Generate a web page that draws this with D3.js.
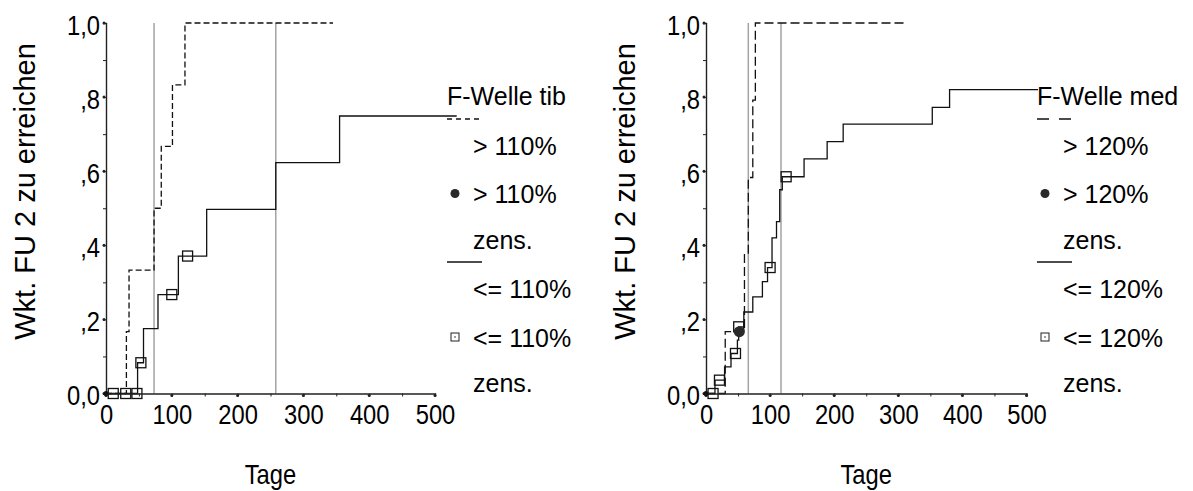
<!DOCTYPE html>
<html>
<head>
<meta charset="utf-8">
<script src="https://cdn.jsdelivr.net/npm/d3@7"></script>
<style>
  body { margin: 0; background: #fff; }
  svg { display: block; }
  text { font-family: "Liberation Sans", Arial, sans-serif; fill: #000; }
</style>
</head>
<body>
<svg id="chart" width="1193" height="491"></svg>
<script>
// ---- axis ticks ----
const xTickValues = [0, 50, 100, 150, 200, 250, 300, 350, 400, 450, 500];
const xMajorTicks = [0, 100, 200, 300, 400, 500];
const xTickLabels = ["0", "100", "200", "300", "400", "500"];
const yTickValues = [0, 0.1, 0.2, 0.3, 0.4, 0.5, 0.6, 0.7, 0.8, 0.9, 1.0];
const yMajorTicks = [0, 0.2, 0.4, 0.6, 0.8, 1.0];
const yTickLabels = ["0,0", ",2", ",4", ",6", ",8", "1,0"];
const xTitle = "Tage";
const yTitle = "Wkt. FU 2 zu erreichen";

// ---- F-Welle tib: cumulative probability steps (days / value) ----
const tibHighDays = [0, 31, 35, 73, 84, 101, 120, 345];
const tibHighVals = [0, 0.167, 0.333, 0.5, 0.667, 0.833, 1.0, 1.0];
const tibHighCensDays = [];
const tibHighCensVals = [];
const tibLowDays = [0, 48, 57, 79, 110, 153, 258, 355, 533];
const tibLowVals = [0, 0.083, 0.175, 0.267, 0.371, 0.497, 0.623, 0.749, 0.749];
const tibLowCensDays = [11, 30, 47, 53, 100, 124];
const tibLowCensVals = [0, 0, 0, 0.083, 0.267, 0.371];
const tibRefDays = [73, 258];
const tibLegend = ["F-Welle tib", "> 110%", "> 110%", "zens.", "<= 110%", "<= 110%", "zens."];

// ---- F-Welle med ----
const medHighDays = [0, 30, 60, 66, 73, 77, 312];
const medHighVals = [0, 0.167, 0.375, 0.583, 0.792, 1.0, 1.0];
const medHighCensDays = [52];
const medHighCensVals = [0.167];
const medLowDays = [0, 14, 29, 39, 49, 51, 59, 73, 88, 96, 103, 110, 115, 119, 153, 189, 214, 353, 380, 518];
const medLowVals = [0, 0.036, 0.072, 0.108, 0.144, 0.18, 0.22, 0.261, 0.302, 0.34, 0.42, 0.464, 0.55, 0.585, 0.633, 0.68, 0.727, 0.772, 0.82, 0.82];
const medLowCensDays = [11, 21, 46, 51, 100, 125];
const medLowCensVals = [0, 0.036, 0.108, 0.18, 0.34, 0.585];
const medRefDays = [66, 117];
const medLegend = ["F-Welle med", "> 120%", "> 120%", "zens.", "<= 120%", "<= 120%", "zens."];

const svg = d3.select("#chart");
const TICK_FONT = 27, TICK_SX = 0.88;
const TITLE_FONT = 29;
const LEGEND_FONT = 25;

function zip(a, b) { return a.map((d, i) => [d, b[i]]); }

function drawPanel(p) {
  const x = d3.scaleLinear().domain([0, 500]).range([p.x0, p.x1]);
  const y = d3.scaleLinear().domain([0, 1]).range([393.5, 23]);
  const g = svg.append("g");

  // reference (median) lines
  g.selectAll("line.ref").data(p.refDays).join("line")
    .attr("x1", d => x(d)).attr("x2", d => x(d))
    .attr("y1", y(0)).attr("y2", y(1))
    .attr("stroke", "#a3a3a3").attr("stroke-width", 1.5);

  // step curves
  const step = d3.line().x(d => x(d[0])).y(d => y(d[1])).curve(d3.curveStepAfter);
  g.append("path").datum(zip(p.lowDays, p.lowVals)).attr("d", step)
    .attr("fill", "none").attr("stroke", "#111").attr("stroke-width", 1.3);
  g.append("path").datum(zip(p.highDays, p.highVals)).attr("d", step)
    .attr("fill", "none").attr("stroke", "#111").attr("stroke-width", 1.3)
    .attr("stroke-dasharray", p.dash);

  // censored marks
  g.selectAll("rect.cens").data(zip(p.lowCensDays, p.lowCensVals)).join("rect")
    .attr("x", d => x(d[0]) - 5).attr("y", d => y(d[1]) - 5)
    .attr("width", 10).attr("height", 10)
    .attr("fill", "none").attr("stroke", "#111").attr("stroke-width", 1.3);
  g.selectAll("circle.cens").data(zip(p.highCensDays, p.highCensVals)).join("circle")
    .attr("cx", d => x(d[0])).attr("cy", d => y(d[1])).attr("r", 5.5)
    .attr("fill", "#2a2a2a");

  // axes
  const yAxis = d3.axisLeft(y).tickValues(yTickValues).tickSize(3)
    .tickFormat(d => { const k = yMajorTicks.findIndex(v => Math.abs(v - d) < 1e-9); return k >= 0 ? yTickLabels[k] : ""; });
  const ya = g.append("g").attr("transform", `translate(${p.x0},0)`).call(yAxis);
  ya.select(".domain").attr("stroke", "#222").attr("stroke-width", 1.4);
  ya.selectAll(".tick line").attr("stroke", "#222");
  ya.selectAll(".tick text")
    .attr("font-size", TICK_FONT).attr("x", -6 / TICK_SX).attr("dy", null).attr("y", 11)
    .attr("transform", `scale(${TICK_SX},1)`);

  const xAxis = d3.axisBottom(x).tickValues(xTickValues).tickSize(3)
    .tickFormat(d => { const k = xMajorTicks.indexOf(d); return k >= 0 ? xTickLabels[k] : ""; });
  const xa = g.append("g").attr("transform", `translate(0,${y(0)})`).call(xAxis);
  xa.select(".domain").attr("stroke", "#222").attr("stroke-width", 1.4);
  xa.selectAll(".tick line").attr("stroke", "#222");
  xa.selectAll(".tick text")
    .attr("font-size", TICK_FONT).attr("y", 31).attr("dy", null)
    .attr("transform", `scale(${TICK_SX},1)`);

  // dots on major ticks
  g.selectAll("circle.ytk").data(yMajorTicks).join("circle")
    .attr("cx", p.x0 - 2).attr("cy", d => y(d)).attr("r", 1.5).attr("fill", "#222");
  g.selectAll("circle.xtk").data(xMajorTicks).join("circle")
    .attr("cx", d => x(d)).attr("cy", y(0) + 2).attr("r", 1.5).attr("fill", "#222");
  g.append("circle").attr("cx", x(0)).attr("cy", y(0)).attr("r", 2.5).attr("fill", "#111");

  // axis titles
  g.append("text").text(xTitle)
    .attr("text-anchor", "middle").attr("font-size", 27)
    .attr("transform", `translate(${(p.x0 + p.x1) / 2},484) scale(${TICK_SX},1)`);
  g.append("text").text(yTitle)
    .attr("text-anchor", "middle").attr("font-size", TITLE_FONT)
    .attr("transform", `translate(${p.x0 - 71},191.5) rotate(-90)`);

  // legend
  const L = p.legend;
  const base = [105, 155, 202.5, 248.5, 297.5, 346.5, 392];
  const lg = g.append("g");
  lg.selectAll("text").data(p.legendText).join("text")
    .attr("x", (d, i) => i === 0 ? L.x : L.x + 26)
    .attr("y", (d, i) => base[i])
    .attr("font-size", LEGEND_FONT)
    .text(d => d);
  lg.append("line").attr("x1", L.x).attr("x2", L.x + 35).attr("y1", 119).attr("y2", 119)
    .attr("stroke", "#111").attr("stroke-width", 1.3).attr("stroke-dasharray", p.legendDash);
  lg.append("line").attr("x1", L.x).attr("x2", L.x + 35).attr("y1", 262).attr("y2", 262)
    .attr("stroke", "#111").attr("stroke-width", 1.3);
  lg.append("circle").attr("cx", L.x + 8).attr("cy", 193.5).attr("r", 4.5).attr("fill", "#2a2a2a");
  lg.append("rect").attr("x", L.x + 4).attr("y", 333).attr("width", 8).attr("height", 8)
    .attr("fill", "none").attr("stroke", "#222").attr("stroke-width", 1);
  lg.append("circle").attr("cx", L.x + 8).attr("cy", 337).attr("r", 0.8).attr("fill", "#222");
}

drawPanel({
  x0: 106, x1: 435,
  highDays: tibHighDays, highVals: tibHighVals,
  highCensDays: tibHighCensDays, highCensVals: tibHighCensVals,
  lowDays: tibLowDays, lowVals: tibLowVals,
  lowCensDays: tibLowCensDays, lowCensVals: tibLowCensVals,
  refDays: tibRefDays, dash: "6,3", legendDash: "5,4",
  legend: { x: 447 }, legendText: tibLegend
});
drawPanel({
  x0: 706, x1: 1026.5,
  highDays: medHighDays, highVals: medHighVals,
  highCensDays: medHighCensDays, highCensVals: medHighCensVals,
  lowDays: medLowDays, lowVals: medLowVals,
  lowCensDays: medLowCensDays, lowCensVals: medLowCensVals,
  refDays: medRefDays, dash: "9,4", legendDash: "12,10",
  legend: { x: 1037 }, legendText: medLegend
});
</script>
</body>
</html>
